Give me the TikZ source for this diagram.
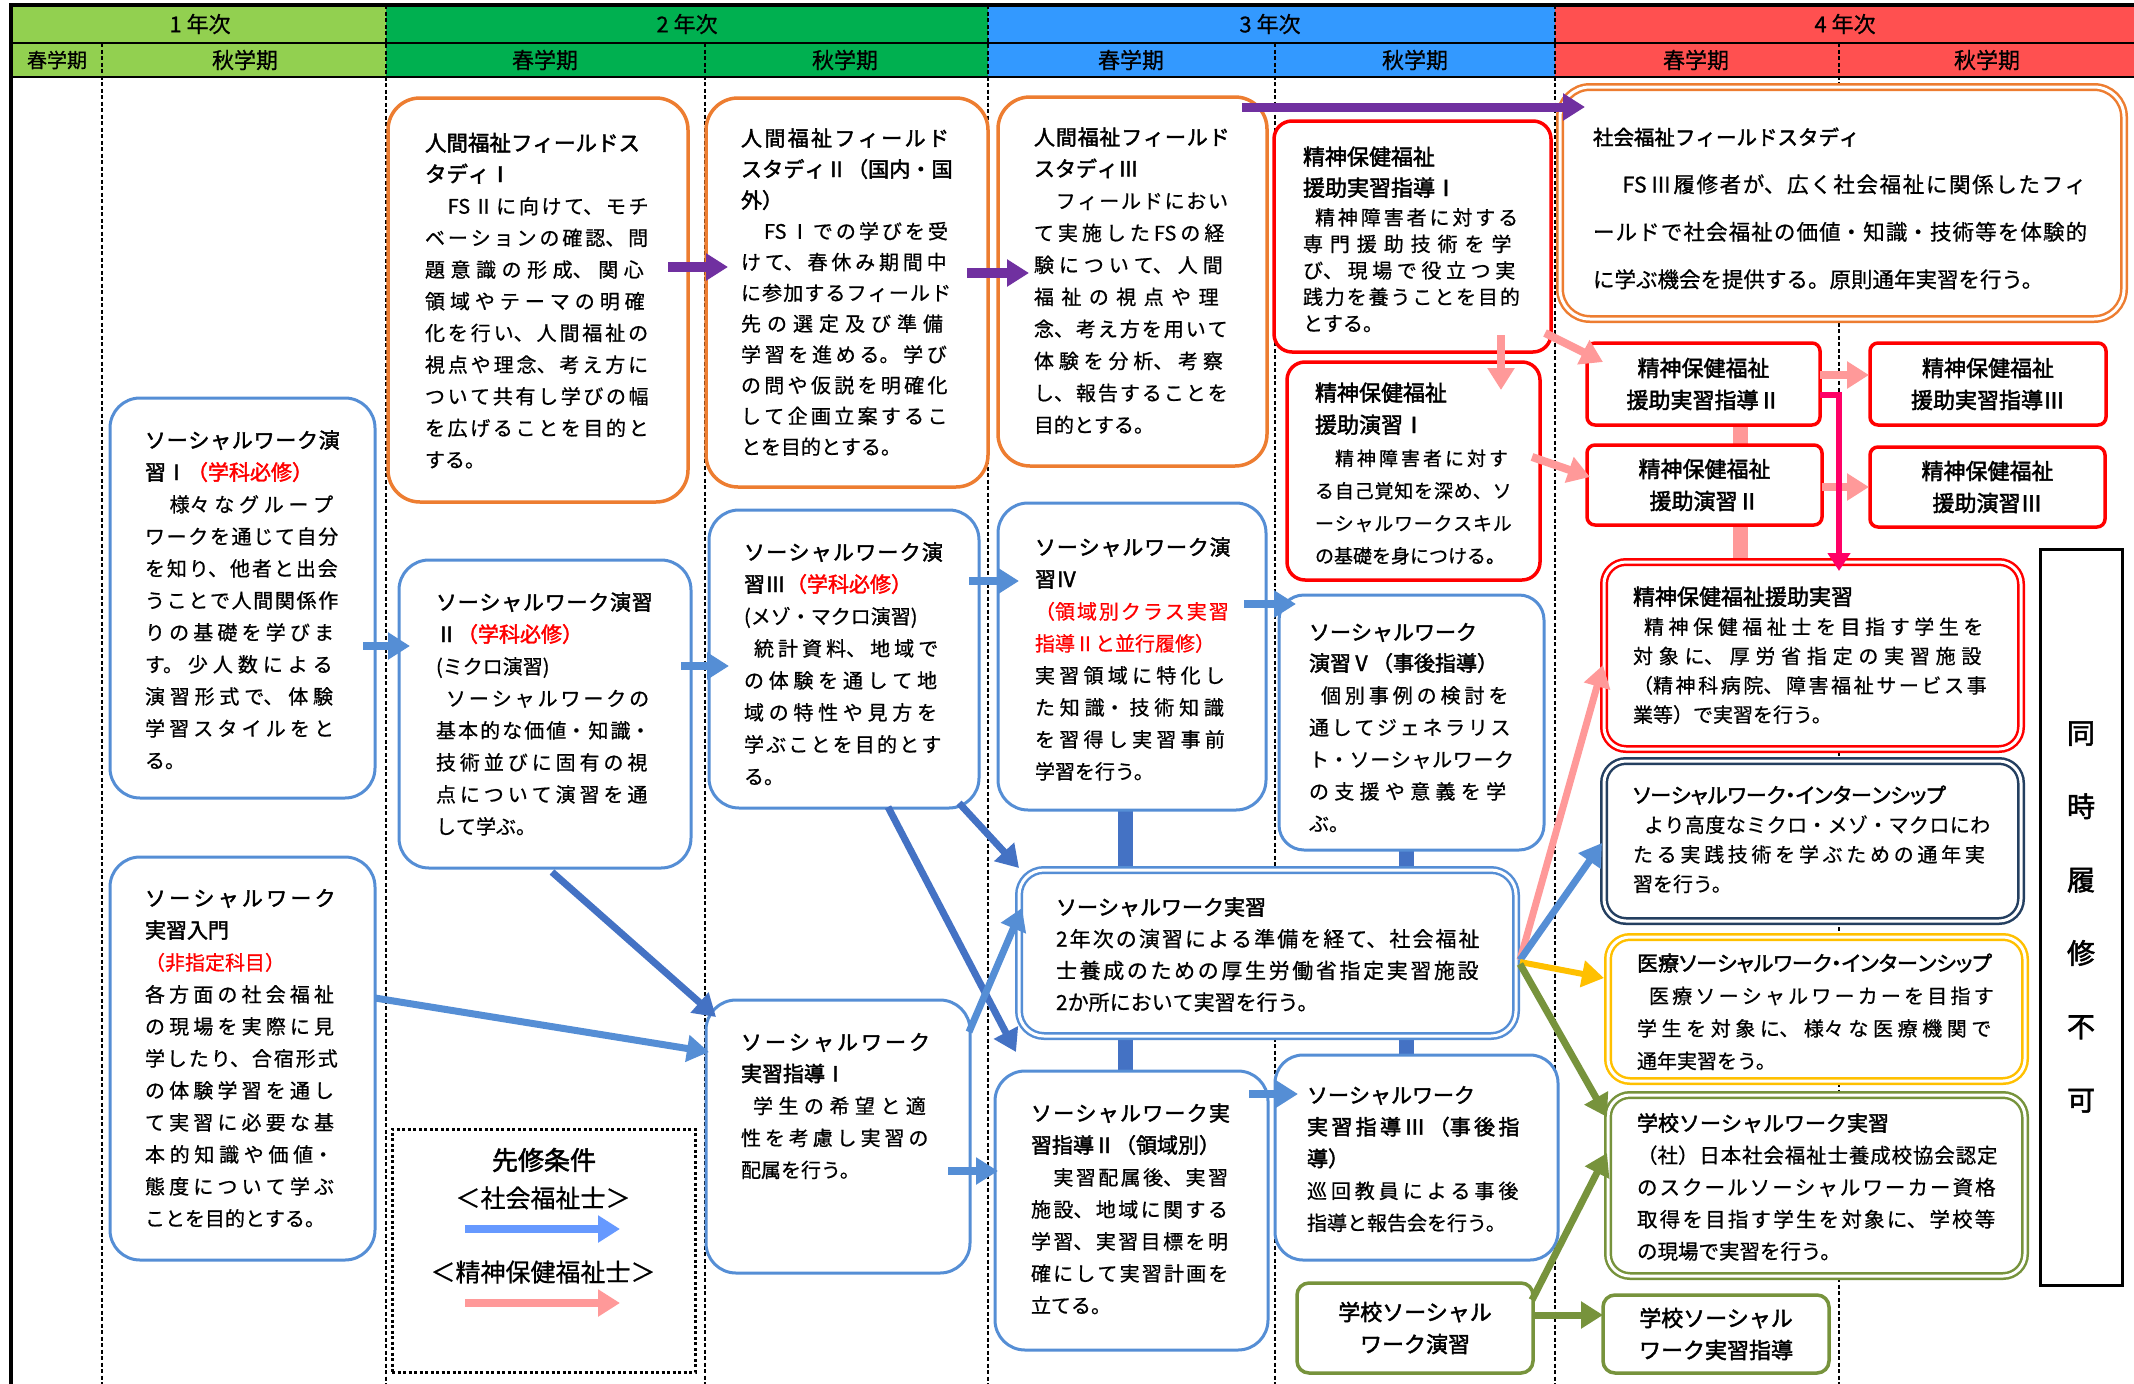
\documentclass[tikz,border=0pt]{standalone}
\usepackage{fontspec}
\setmainfont{Noto Sans CJK JP}[AutoFakeBold=2,UprightFeatures={FakeBold=0.7}]
\newfontfamily\pfont{Noto Sans CJK JP}[RawFeature=+palt,AutoFakeBold=2]
\usetikzlibrary{arrows.meta,backgrounds}
\XeTeXlinebreaklocale "ja"
\XeTeXlinebreakskip=0pt plus 12pt
\XeTeXlinebreakpenalty=10000
\tolerance=10000
\hbadness=10000
\definecolor{cyA}{HTML}{92D050}
\definecolor{cyB}{HTML}{00B050}
\definecolor{cyC}{HTML}{3399FF}
\definecolor{cyD}{HTML}{FF5050}
\definecolor{cpur}{HTML}{7030A0}
\definecolor{cblue}{HTML}{558ED5}
\definecolor{cdblue}{HTML}{4472C4}
\definecolor{clgblue}{HTML}{6699FF}
\definecolor{cpink}{HTML}{FF9999}
\definecolor{cmag}{HTML}{FF0066}
\definecolor{cgold}{HTML}{FFC000}
\definecolor{colive}{HTML}{77933C}
\definecolor{cnavy}{HTML}{243F60}
\definecolor{corange}{HTML}{ED7D31}
\definecolor{cred}{HTML}{FF0000}
\newcommand\ttl[3]{{\fontsize{#1}{#2}\selectfont\bfseries\leavevmode #3\par}}
\newcommand\bdy[3]{{\fontsize{#1}{#2}\selectfont\leavevmode #3\par}}
\newcommand\lb{\linebreak}
\newcommand\mkbox[6]{\node[#2, minimum width={(#5)-(#3)}, minimum height={(#6)-(#4)}] (#1) at (#3,#4) {};}
\tikzset{
 rbx/.style={draw=#1, fill=white, line width=3pt, inner sep=0pt, outer sep=0pt, anchor=north west},
 dbx/.style={draw=#1, fill=white, double=white, double distance=3pt, line width=2.5pt, inner sep=0pt, outer sep=0pt, anchor=north west},
 tx/.style={anchor=base west, inner sep=0pt, outer sep=0pt, text width=#1pt},
 hd/.style={inner sep=0pt, font=\fontsize{22}{26}\selectfont},
 arw/.style={line width=#1, -{Triangle[length=22pt,width=26pt]}},
 bar/.style={line width=15pt, draw=#1},
 sepl/.style={dash pattern=on 4pt off 2.5pt, line width=1.2pt},
 ctr/.style={align=center, font=\fontsize{22}{32}\selectfont\bfseries},
}
\begin{document}
\begin{tikzpicture}[x=1pt,y=-1pt]
\useasboundingbox (0,0) rectangle (2134,1384);
\begin{pgfonlayer}{background}
\fill[white] (0,0) rectangle (2134,1384);
\fill[cyA] (11,5) rectangle (386,77);
\fill[cyB] (386,5) rectangle (988,77);
\fill[cyC] (988,5) rectangle (1555,77);
\fill[cyD] (1555,5) rectangle (2134,77);
\foreach \x in {386,988,1555} \draw[sepl] (\x,5) -- (\x,1384);
\foreach \x in {102,705,1275,1839} \draw[sepl] (\x,43) -- (\x,1384);
\end{pgfonlayer}
\draw[line width=4pt] (9,5) -- (2134,5);
\draw[line width=2.5pt] (11,43) -- (2134,43);
\draw[line width=2.5pt] (11,77) -- (2134,77);
\draw[line width=4pt] (11,3) -- (11,1384);
% header labels
\node[hd] (yA) at (200,24) {1 年次};
\node[hd] (yB) at (687,24) {2 年次};
\node[hd] (yC) at (1270,24) {3 年次};
\node[hd] (yD) at (1845,24) {4 年次};
\node[hd,font=\fontsize{20}{24}\selectfont] (sA1) at (57,60) {春学期};
\node[hd] (sA2) at (245,60) {秋学期};
\node[hd] (sB1) at (545,60) {春学期};
\node[hd] (sB2) at (845,60) {秋学期};
\node[hd] (sC1) at (1131,60) {春学期};
\node[hd] (sC2) at (1415,60) {秋学期};
\node[hd] (sD1) at (1696,60) {春学期};
\node[hd] (sD2) at (1987,60) {秋学期};
% boxes
\mkbox{fs1}{rbx=corange, rounded corners=32pt, line width=3.5pt}{388}{98}{688}{502}
\mkbox{fs2}{rbx=corange, rounded corners=32pt, line width=3.5pt}{706}{98}{988}{487}
\mkbox{fs3}{rbx=corange, rounded corners=32pt, line width=3.5pt}{998}{97}{1267}{466}
\mkbox{sfs}{dbx=corange, rounded corners=30pt}{1560}{87}{2124}{319}
\mkbox{sw1}{rbx=cblue, rounded corners=30pt}{110}{398}{375}{798}
\mkbox{swi}{rbx=cblue, rounded corners=30pt}{110}{857}{375}{1260}
\mkbox{sw2}{rbx=cblue, rounded corners=30pt}{399}{560}{691}{868}
\mkbox{sw3}{rbx=cblue, rounded corners=30pt}{709}{510}{979}{808}
\mkbox{sw4}{rbx=cblue, rounded corners=30pt}{998}{503}{1266}{810}
\mkbox{sw5}{rbx=cblue, rounded corners=25pt}{1279}{595}{1544}{850}
\mkbox{swp}{dbx=cblue, rounded corners=25pt}{1019}{870}{1516}{1036}
\mkbox{sg1}{rbx=cblue, rounded corners=30pt}{706}{1000}{970}{1273}
\mkbox{sg2}{rbx=cblue, rounded corners=30pt}{995}{1071}{1268}{1350}
\mkbox{sg3}{rbx=cblue, rounded corners=28pt}{1275}{1055}{1558}{1260}
\mkbox{sh1}{rbx=cred, rounded corners=18pt, line width=3.5pt}{1274}{121}{1551}{352}
\mkbox{sh2}{rbx=cred, rounded corners=18pt, line width=3.5pt}{1287}{362}{1540}{580}
\mkbox{shp}{dbx=cred, rounded corners=22pt}{1604}{562}{2021}{749}
\mkbox{swis}{dbx=cnavy, rounded corners=22pt}{1604}{761}{2021}{921}
\mkbox{med}{dbx=cgold, rounded corners=22pt}{1608}{937}{2025}{1081}
\mkbox{sswp}{dbx=colive, rounded corners=22pt}{1608}{1095}{2025}{1276}
\mkbox{lgd}{rbx=black, line width=3pt, dash pattern=on 3pt off 2.5pt, fill=none}{392}{1129}{695}{1372}
\node[rbx=cred, rounded corners=8pt, line width=3.5pt, minimum width=233, minimum height=82, ctr] (sh3) at (1587,343) {精神保健福祉\\援助実習指導Ⅱ};
\node[rbx=cred, rounded corners=8pt, line width=3.5pt, minimum width=236, minimum height=82, ctr] (sh4) at (1870,343) {精神保健福祉\\援助実習指導Ⅲ};
\node[rbx=cred, rounded corners=8pt, line width=3.5pt, minimum width=235, minimum height=80, ctr] (sh5) at (1587,445) {精神保健福祉\\援助演習Ⅱ};
\node[rbx=cred, rounded corners=8pt, line width=3.5pt, minimum width=235, minimum height=80, ctr] (sh6) at (1870,447) {精神保健福祉\\援助演習Ⅲ};
\node[rbx=colive, rounded corners=12pt, line width=3.5pt, minimum width=236, minimum height=90, ctr] (sswe) at (1297,1283) {学校ソーシャル\\ワーク演習};
\node[rbx=colive, rounded corners=12pt, line width=3.5pt, minimum width=226, minimum height=78, ctr] (sswg) at (1603,1295) {学校ソーシャル\\ワーク実習指導};
\node[rbx=black, line width=3pt, minimum width=82, minimum height=736, align=center, font=\fontsize{28}{73.4}\selectfont\bfseries] (douji) at (2040,549) {同\\時\\履\\修\\不\\可};
% connector bars
\begin{pgfonlayer}{background}
\draw[bar=cdblue] ([xshift=-7pt]sw4.south) -- ([xshift=-7pt]sw4.south |- swp.north);
\draw[bar=cdblue] ([xshift=-5.5pt]sw5.south) -- ([xshift=-5.5pt]sw5.south |- swp.north);
\draw[bar=cdblue] ([xshift=-6.5pt]sg2.north) -- ([xshift=-6.5pt]sg2.north |- swp.south);
\draw[bar=cdblue] ([xshift=-10.5pt]sg3.north) -- ([xshift=-10.5pt]sg3.north |- swp.south);
\draw[bar=cpink] ([xshift=36.5pt]sh3.south) -- ([xshift=35.5pt]sh5.north);
\draw[bar=cpink] ([xshift=35.5pt]sh5.south) -- ([xshift=35.5pt]sh5.south |- shp.north);
\end{pgfonlayer}
% texts
\node[tx=228] (fs1t) at (425,151) {\ttl{21.5}{31}{人間福祉フィールドス\\タディⅠ}\bdy{20}{31.7}{　FS\,Ⅱに向けて、モチ\lb ベーションの確認、問\lb 題意識の形成、関心\lb 領域やテーマの明確\lb 化を行い、人間福祉の\lb 視点や理念、考え方に\lb ついて共有し学びの幅\lb を広げることを目的と\lb する。}};
\node[tx=212] (fs2t) at (741,146) {\ttl{21}{31}{人間福祉フィールド\lb スタディⅡ（国内・国\lb 外）}\bdy{20}{30.8}{　FS\,Ⅰでの学びを受\lb けて、春休み期間中\lb に参加するフィールド\lb 先の選定及び準備\lb 学習を進める。学び\lb の問や仮説を明確化\lb して企画立案するこ\lb とを目的とする。}};
\node[tx=197] (fs3t) at (1034,145) {\ttl{21}{31.5}{人間福祉フィールド\lb スタディⅢ}\bdy{20}{32}{　フィールドにおい\lb て実施したFSの経\lb 験について、人間\lb 福祉の視点や理\lb 念、考え方を用いて\lb 体験を分析、考察\lb し、報告することを\lb 目的とする。}};
\node[tx=496] (sfst) at (1593,145) {\ttl{20.5}{47.5}{社会福祉フィールドスタディ}\bdy{21.5}{47.5}{　\hspace{8pt}FS\,Ⅲ履修者が、広く社会福祉に関係したフィ\lb ールドで社会福祉の価値・知識・技術等を体験的\lb に学ぶ機会を提供する。原則通年実習を行う。}};
\node[tx=196] (sw1t) at (145,448) {\ttl{21}{32}{ソーシャルワーク演\lb 習Ⅰ{\color{red}（学科必修）}}\bdy{20}{32}{　様々なグループ\lb ワークを通じて自分\lb を知り、他者と出会\lb うことで人間関係作\lb りの基礎を学びま\lb す。少人数による\lb 演習形式で、体験\lb 学習スタイルをと\lb る。}};
\node[tx=196] (swit) at (145,906) {\ttl{21}{32}{ソーシャルワーク\lb 実習入門}\bdy{20}{32}{\color{red}（非指定科目）}\bdy{20}{32}{各方面の社会福祉\lb の現場を実際に見\lb 学したり、合宿形式\lb の体験学習を通し\lb て実習に必要な基\lb 本的知識や価値・\lb 態度について学ぶ\lb ことを目的とする。}};
\node[tx=218] (sw2t) at (436,610) {\ttl{21}{32}{ソーシャルワーク演習\lb Ⅱ{\color{red}（学科必修）}}\bdy{20}{32}{(ミクロ演習)\\ \hspace*{10pt}ソーシャルワークの\lb 基本的な価値・知識・\lb 技術並びに固有の視\lb 点について演習を通\lb して学ぶ。}};
\node[tx=201] (sw3t) at (744,560) {\ttl{21}{32}{ソーシャルワーク演\lb 習Ⅲ{\color{red}（学科必修）}}\bdy{20}{32}{(メゾ・マクロ演習)\\ \hspace*{10pt}統計資料、地域で\lb の体験を通して地\lb 域の特性や見方を\lb 学ぶことを目的とす\lb る。}};
\node[tx=197] (sw4t) at (1035,555) {\ttl{21}{32}{ソーシャルワーク演\lb 習Ⅳ}\bdy{20}{32}{\color{red}（領域別クラス実習\lb 指導Ⅱと並行履修）}\bdy{20}{32}{実習領域に特化し\lb た知識・技術知識\lb を習得し実習事前\lb 学習を行う。}};
\node[tx=206] (sw5t) at (1309,640) {\ttl{21}{31}{ソーシャルワーク\\演習Ⅴ（事後指導）}\bdy{20}{32}{\hspace*{12pt}個別事例の検討を\lb 通してジェネラリス\lb ト・ソーシャルワーク\lb の支援や意義を学\lb ぶ。}};
\node[tx=427] (swpt) at (1056,915) {\ttl{21}{33}{ソーシャルワーク実習}\bdy{21}{31.7}{2年次の演習による準備を経て、社会福祉\lb 士養成のための厚生労働省指定実習施設\lb 2か所において実習を行う。}};
\node[tx=194] (sg1t) at (741,1050) {\ttl{21}{31.5}{ソーシャルワーク\lb 実習指導Ⅰ}\bdy{20}{32}{\hspace*{12pt}学生の希望と適\lb 性を考慮し実習の\lb 配属を行う。}};
\node[tx=201] (sg2t) at (1031,1121) {\ttl{21}{32}{ソーシャルワーク実\lb 習指導Ⅱ（領域別）}\bdy{20}{32}{　実習配属後、実習\lb 施設、地域に関する\lb 学習、実習目標を明\lb 確にして実習計画を\lb 立てる。}};
\node[tx=218] (sg3t) at (1307,1103) {\ttl{21}{31.7}{ソーシャルワーク\\実習指導Ⅲ（事後指\lb 導）}\bdy{20}{32}{巡回教員による事後\lb 指導と報告会を行う。}};
\node[tx=220] (sh1t) at (1303,165) {\ttl{22}{31}{精神保健福祉\\援助実習指導Ⅰ}\vspace{2.5pt}\bdy{20}{26.5}{\hspace*{12pt}精神障害者に対する\lb 専門援助技術を学\lb び、現場で役立つ実\lb 践力を養うことを目的\lb とする。}};
\node[tx=198] (sh2t) at (1315,401) {\ttl{22}{32}{精神保健福祉\\援助演習Ⅰ}\bdy{19}{32.5}{\hspace*{20pt}精神障害者に対す\lb る自己覚知を深め、ソ\lb ーシャルワークスキル\lb の基礎を身につける。}};
\node[tx=358] (shpt) at (1633,605) {\ttl{22}{30}{精神保健福祉援助実習}\bdy{20}{29.3}{\hspace*{11pt}精神保健福祉士を目指す学生を\lb 対象に、厚労省指定の実習施設\lb （精神科病院、障害福祉サービス事\lb 業等）で実習を行う。}};
\node[tx=358] (swist) at (1633,803) {{\pfont\ttl{21}{30}{ソーシャルワーク・インターンシップ}}\bdy{20}{29.5}{\hspace*{11pt}より高度なミクロ・メゾ・マクロにわ\lb たる実践技術を学ぶための通年実\lb 習を行う。}};
\node[tx=362] (medt) at (1637,971) {{\pfont\ttl{21}{32}{医療ソーシャルワーク・インターンシップ}}\bdy{20}{32.5}{\hspace*{12pt}医療ソーシャルワーカーを目指す\lb 学生を対象に、様々な医療機関で\lb 通年実習をう。}};
\node[tx=362] (sswpt) at (1637,1131) {\ttl{21}{32}{学校ソーシャルワーク実習}\bdy{20.5}{32}{（社）日本社会福祉士養成校協会認定\lb のスクールソーシャルワーカー資格\lb 取得を目指す学生を対象に、学校等\lb の現場で実習を行う。}};
% legend
\node[font=\fontsize{26}{30}\selectfont\bfseries] (lg1) at (544,1160) {先修条件};
\node[font=\fontsize{25}{30}\selectfont] (lg2) at (543,1198) {＜社会福祉士＞};
\node[font=\fontsize{25}{30}\selectfont] (lg3) at (543,1272) {＜精神保健福祉士＞};
\draw[arw=8pt, clgblue] ([shift={(73,100)}]lgd.north west) -- ([shift={(228,100)}]lgd.north west);
\draw[arw=8pt, cpink] ([shift={(73,174)}]lgd.north west) -- ([shift={(228,174)}]lgd.north west);
% purple arrows
\draw[arw=10pt, cpur] ([shift={(280,169)}]fs1.north west) -- ([shift={(22,169)}]fs2.north west);
\draw[arw=10pt, cpur] ([shift={(261,175)}]fs2.north west) -- ([shift={(31,176)}]fs3.north west);
\draw[arw=9pt, cpur] ([shift={(244,10)}]fs3.north west) -- ([shift={(25,20)}]sfs.north west);
% blue arrows
\draw[arw=8pt, cblue] ([shift={(253,248)}]sw1.north west) -- ([shift={(11,86)}]sw2.north west);
\draw[arw=8pt, cblue] ([shift={(282,106)}]sw2.north west) -- ([shift={(20,156)}]sw3.north west);
\draw[arw=8pt, cblue] ([shift={(260,71)}]sw3.north west) -- ([shift={(21,78)}]sw4.north west);
\draw[arw=8pt, cblue] ([shift={(246,101)}]sw4.north west) -- ([shift={(17,9)}]sw5.north west);
\draw[arw=8pt, cblue] ([shift={(242,171)}]sg1.north west) -- ([shift={(3,100)}]sg2.north west);
\draw[arw=8pt, cblue] ([shift={(254,23)}]sg2.north west) -- ([shift={(23,39)}]sg3.north west);
\draw[arw=7pt, cblue] ([shift={(265,141)}]swi.north west) -- ([shift={(3,52)}]sg1.north west);
\draw[arw=7pt, cdblue] ([shift={(153,312)}]sw2.north west) -- ([shift={(10,17)}]sg1.north west);
\draw[arw=7pt, cdblue] ([shift={(179,297)}]sw3.north west) -- ([shift={(21,-19)}]sg2.north west);
\draw[arw=7pt, cdblue] ([shift={(250,293)}]sw3.north west) -- ([shift={(0,-2)}]swp.north west);
\draw[arw=7pt, cblue] ([shift={(263,32)}]sg1.north west) -- ([shift={(3,38)}]swp.north west);
% pink arrows
\draw[arw=8pt, cpink] ([shift={(227,214)}]sh1.north west) -- ([shift={(214,28)}]sh2.north west);
\draw[arw=8pt, cpink] ([shift={(271,212)}]sh1.north west) -- ([shift={(16,19)}]sh3.north west);
\draw[arw=8pt, cpink] ([shift={(245,95)}]sh2.north west) -- ([shift={(3,32)}]sh5.north west);
\draw[arw=8pt, cpink] ([shift={(233,32)}]sh3.north west) -- ([shift={(-1,32)}]sh4.north west);
\draw[arw=8pt, cpink] ([shift={(235,42)}]sh5.north west) -- ([shift={(-1,40)}]sh6.north west);
\draw[line width=6pt, cmag, -{Triangle[length=18pt,width=22pt]}] ([shift={(233,52)}]sh3.north west) -| ([shift={(235,9)}]shp.north west);
% arrows from practicum
\draw[arw=7pt, cpink] ([shift={(501,90)}]swp.north west) -- ([shift={(-1,103)}]shp.north west);
\draw[arw=7pt, cblue] ([shift={(501,90)}]swp.north west) -- ([shift={(-2,82)}]swis.north west);
\draw[arw=6pt, cgold] ([shift={(501,92)}]swp.north west) -- ([shift={(-4,41)}]med.north west);
\draw[arw=7pt, colive] ([shift={(501,94)}]swp.north west) -- ([shift={(-1,22)}]sswp.north west);
\draw[arw=7pt, colive] ([shift={(235,17)}]sswe.north west) -- ([shift={(-1,58)}]sswp.north west);
\draw[arw=7pt, colive] ([shift={(236,32)}]sswe.north west) -- ([shift={(0,20)}]sswg.north west);
\end{tikzpicture}
\end{document}
